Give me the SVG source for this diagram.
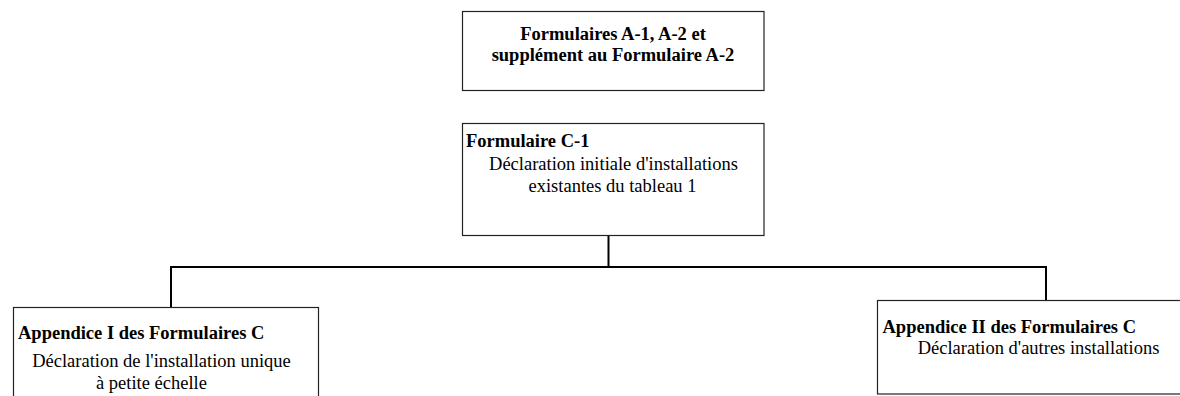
<svg xmlns="http://www.w3.org/2000/svg" width="1180" height="396" viewBox="0 0 1180 396">
<style>
.box{fill:#fff;stroke:#222;stroke-width:1.2}
.b{font-family:"Liberation Serif","Times New Roman",serif;font-size:18.5px;font-weight:bold;fill:#000}
.r{font-family:"Liberation Serif","Times New Roman",serif;font-size:18.5px;fill:#000}
.c{text-anchor:middle}
.conn{fill:none;stroke:#000;stroke-width:2}
</style>
<rect width="1180" height="396" fill="#fff"/>
<g id="connectors">
<path class="conn" d="M608.5 236 V267"/>
<path class="conn" d="M171 307 V267 H1046 V300"/>
</g>
<g id="node-a">
<rect class="box" x="462.5" y="11.5" width="301.5" height="79"/>
<text class="b c" x="613" y="40">Formulaires A-1, A-2 et</text>
<text class="b c" x="613" y="61">supplément au Formulaire A-2</text>
</g>
<g id="node-c1">
<rect class="box" x="462.5" y="123.5" width="301.5" height="112"/>
<text class="b" x="466" y="146.5">Formulaire C-1</text>
<text class="r c" x="613.5" y="170">Déclaration initiale d'installations</text>
<text class="r c" x="612.5" y="192">existantes du tableau 1</text>
</g>
<g id="node-app1">
<rect class="box" x="13.5" y="307.5" width="305" height="100"/>
<text class="b" x="18" y="338.5">Appendice I des Formulaires C</text>
<text class="r c" x="161.5" y="367">Déclaration de l'installation unique</text>
<text class="r c" x="151.5" y="388.5">à petite échelle</text>
</g>
<g id="node-app2">
<rect class="box" x="877.5" y="300.5" width="310" height="93.5"/>
<text class="b" x="882.5" y="333">Appendice II des Formulaires C</text>
<text class="r c" x="1038.5" y="353.5">Déclaration d'autres installations</text>
</g>
</svg>
